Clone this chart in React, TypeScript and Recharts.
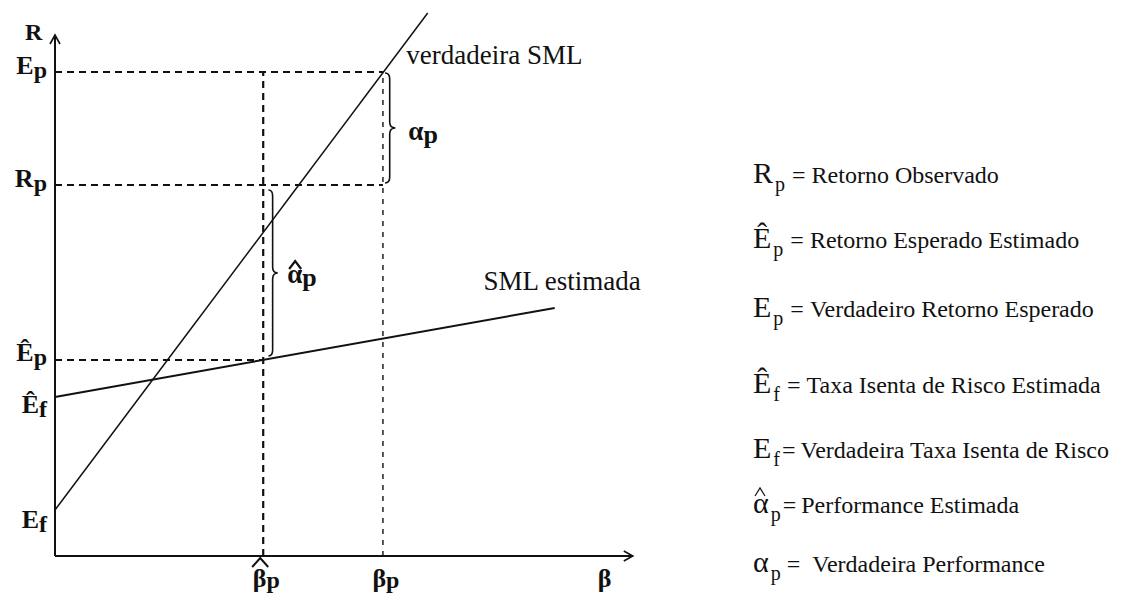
import React from 'react';
import { ComposedChart, Line, XAxis, YAxis, ReferenceLine, ReferenceArea, ReferenceDot, Legend } from 'recharts';

// values (beta in units of beta-hat, R in arbitrary units)
const BETA_HAT = 1.0;
const BETA_P = 1.575;
const E_F = 0.46;
const E_F_HAT = 1.59;
const E_P_HAT = 1.96;
const R_P = 3.71;
const E_P = 4.84;

const TRUE_SML = [
  { beta: 0, r: 0.46 },
  { beta: 1.79, r: 5.43 },
];
const EST_SML = [
  { beta: 0, r: 1.59 },
  { beta: 2.4, r: 2.48 },
];

const Y_TICKS = [E_F, E_F_HAT, E_P_HAT, R_P, E_P];
const Y_TICK_LABELS = [['E', 'f'], ['Ê', 'f'], ['Ê', 'p'], ['R', 'p'], ['E', 'p']];
const X_TICKS = [BETA_HAT, BETA_P, 2.64];
const X_TICK_LABELS = [['β', 'p'], ['β', 'p'], ['β', '']];

const LEGEND_SYMBOLS = ['R', 'Ê', 'E', 'Ê', 'E', 'α', 'α'];
const LEGEND_SUBS = ['p', 'p', 'p', 'f', 'f', 'p', 'p'];
const LEGEND_TEXT = [
  'Retorno Observado',
  'Retorno Esperado Estimado',
  'Verdadeiro Retorno Esperado',
  'Taxa Isenta de Risco Estimada',
  'Verdadeira Taxa Isenta de Risco',
  'Performance Estimada',
  'Verdadeira Performance',
];

const SERIF = '"Liberation Serif", "Times New Roman", serif';
const INK = '#111';
const Y_TICK_DY = [18, 16, 1, 2, 2];
const LEGEND_X = 753;
const LEGEND_BASELINES = [183, 248, 317, 393, 458, 513, 572];
// gap before "=" and after it, per row (the scan is not regular)
const LEGEND_EQ_DX = [7, 7, 7, 7, 2, 2, 6];
const LEGEND_TEXT_DX = [6, 6, 6, 6, 5, 5, 12];

const YTick = (props: any) => {
  const { x, y, payload } = props;
  const i = Y_TICKS.indexOf(payload.value);
  if (i < 0) return null;
  const [main, sub] = Y_TICK_LABELS[i];
  return (
    <text x={x} y={y + Y_TICK_DY[i]} textAnchor="end" fontFamily={SERIF} fontWeight="bold" fontSize={26} fill={INK}>
      {main}
      <tspan fontSize={24} dy={4}>{sub}</tspan>
    </text>
  );
};

const XTick = (props: any) => {
  const { x, payload } = props;
  const i = X_TICKS.indexOf(payload.value);
  if (i < 0) return null;
  const [main, sub] = X_TICK_LABELS[i];
  const base = 587;
  return (
    <g>
      {i === 0 && (
        <path d={`M ${x - 11} 567 L ${x - 3} 558 L ${x + 5} 567`} fill="none" stroke={INK} strokeWidth={2} />
      )}
      <text x={x + (sub ? 3 : 0)} y={base} textAnchor="middle" fontFamily={SERIF} fontWeight="bold" fontSize={26} fill={INK}>
        {main}
        {sub && <tspan fontSize={24} dy={1}>{sub}</tspan>}
      </text>
    </g>
  );
};

const Arrow = (props: any) => {
  const { x1, y1, x2, y2 } = props;
  const a = Math.atan2(y2 - y1, x2 - x1);
  const L = 9;
  const W = 5;
  const bx = x2 - L * Math.cos(a);
  const by = y2 - L * Math.sin(a);
  const px = -Math.sin(a) * W;
  const py = Math.cos(a) * W;
  return (
    <g>
      <line x1={x1} y1={y1} x2={x2} y2={y2} stroke={INK} strokeWidth={2} />
      <path d={`M ${bx + px} ${by + py} L ${x2} ${y2} L ${bx - px} ${by - py}`} fill="none" stroke={INK} strokeWidth={1.6} />
    </g>
  );
};

const Brace = (props: any) => {
  const { x, y, width: w, height: h } = props;
  const m = x + w * 0.45;
  const c = 6;
  const mid = y + h / 2;
  const d = `M ${x} ${y} Q ${m} ${y} ${m} ${y + c} L ${m} ${mid - c} Q ${m} ${mid} ${x + w} ${mid} Q ${m} ${mid} ${m} ${mid + c} L ${m} ${y + h - c} Q ${m} ${y + h} ${x} ${y + h}`;
  return <path d={d} fill="none" stroke={INK} strokeWidth={1.6} />;
};

const textAt = (content: React.ReactNode, size: number, bold: boolean) => (p: any) => (
  <text x={p.cx} y={p.cy} fontFamily={SERIF} fontSize={size} fontWeight={bold ? 'bold' : 'normal'} fill={INK}>
    {content}
  </text>
);

const AlphaHat = (p: any) => (
  <g>
    <path d={`M ${p.cx + 2} ${p.cy - 14} L ${p.cx + 8} ${p.cy - 22} L ${p.cx + 14} ${p.cy - 14}`} fill="none" stroke={INK} strokeWidth={2.2} />
    <text x={p.cx} y={p.cy} fontFamily={SERIF} fontSize={27} fontWeight="bold" fill={INK}>
      α<tspan fontSize={26} dy={3}>p</tspan>
    </text>
  </g>
);

const LegendList = () => (
  <svg width={1129} height={595} style={{ display: 'block' }}>
    {LEGEND_SYMBOLS.map((s, i) => {
      const b = LEGEND_BASELINES[i];
      return (
        <g key={i}>
          {i === 5 && (
            <path d={`M ${LEGEND_X + 2} ${b - 17} L ${LEGEND_X + 7} ${b - 25} L ${LEGEND_X + 12} ${b - 17}`} fill="none" stroke={INK} strokeWidth={1.2} />
          )}
          <text x={LEGEND_X} y={b} fontFamily={SERIF} fill={INK}>
            <tspan fontSize={30}>{s}</tspan>
            <tspan fontSize={20} dx={2} dy={8}>{LEGEND_SUBS[i]}</tspan>
            <tspan fontSize={24} dx={LEGEND_EQ_DX[i]} dy={-8}>=</tspan>
            <tspan fontSize={24} dx={LEGEND_TEXT_DX[i]}>{LEGEND_TEXT[i]}</tspan>
          </text>
        </g>
      );
    })}
  </svg>
);

const dash = { stroke: INK, strokeWidth: 1.8, strokeDasharray: '7 5' };

export default function App() {
  return (
    <div style={{ position: 'absolute', left: 0, top: 0, background: '#fff' }}>
      <ComposedChart width={1129} height={595} margin={{ top: 6, right: 491, bottom: 0, left: 0 }}>
        <XAxis
          type="number"
          dataKey="beta"
          domain={[0, 2.8]}
          ticks={X_TICKS}
          tick={<XTick />}
          interval={0}
          axisLine={false}
          tickLine={false}
          height={39}
        />
        <YAxis
          type="number"
          dataKey="r"
          domain={[0, 5.5]}
          ticks={Y_TICKS}
          tick={<YTick />}
          interval={0}
          axisLine={false}
          tickLine={false}
          width={55}
        />
        <Legend
          layout="vertical"
          align="center"
          verticalAlign="middle"
          content={<LegendList />}
          wrapperStyle={{ left: 0, top: 0, width: 1129, height: 595, pointerEvents: 'none' }}
        />

        <ReferenceLine segment={[{ x: 0, y: E_P }, { x: BETA_P, y: E_P }]} {...dash} />
        <ReferenceLine segment={[{ x: 0, y: R_P }, { x: BETA_P, y: R_P }]} {...dash} />
        <ReferenceLine segment={[{ x: 0, y: E_P_HAT }, { x: BETA_HAT, y: E_P_HAT }]} {...dash} />
        <ReferenceLine segment={[{ x: BETA_HAT, y: 0 }, { x: BETA_HAT, y: E_P }]} {...dash} strokeWidth={2.2} />
        <ReferenceLine segment={[{ x: BETA_P, y: 0 }, { x: BETA_P, y: E_P }]} {...dash} strokeWidth={1.4} strokeDasharray="5 6" />

        <ReferenceLine segment={[{ x: 0, y: 0 }, { x: 0, y: 5.21 }]} shape={<Arrow />} ifOverflow="visible" />
        <ReferenceLine segment={[{ x: 0, y: 0 }, { x: 2.775, y: 0 }]} shape={<Arrow />} ifOverflow="visible" />

        <ReferenceArea x1={1.585} x2={1.635} y1={R_P + 0.02} y2={E_P - 0.01} shape={<Brace />} ifOverflow="visible" />
        <ReferenceArea x1={1.025} x2={1.07} y1={E_P_HAT + 0.04} y2={R_P - 0.05} shape={<Brace />} ifOverflow="visible" />

        <Line data={TRUE_SML} dataKey="r" type="linear" stroke={INK} strokeWidth={1.5} dot={false} activeDot={false} isAnimationActive={false} />
        <Line data={EST_SML} dataKey="r" type="linear" stroke={INK} strokeWidth={2} dot={false} activeDot={false} isAnimationActive={false} />

        <ReferenceDot x={-0.144} y={5.16} r={0} ifOverflow="visible" shape={textAt('R', 24, true)} />
        <ReferenceDot x={1.6875} y={4.92} r={0} ifOverflow="visible" shape={textAt('verdadeira SML', 27, false)} />
        <ReferenceDot x={2.058} y={2.66} r={0} ifOverflow="visible" shape={textAt('SML estimada', 27, false)} />
        <ReferenceDot
          x={1.697}
          y={4.16}
          r={0}
          ifOverflow="visible"
          shape={textAt(<>α<tspan fontSize={26} dy={3}>p</tspan></>, 27, true)}
        />
        <ReferenceDot x={1.115} y={2.73} r={0} ifOverflow="visible" shape={<AlphaHat />} />
      </ComposedChart>
    </div>
  );
}
